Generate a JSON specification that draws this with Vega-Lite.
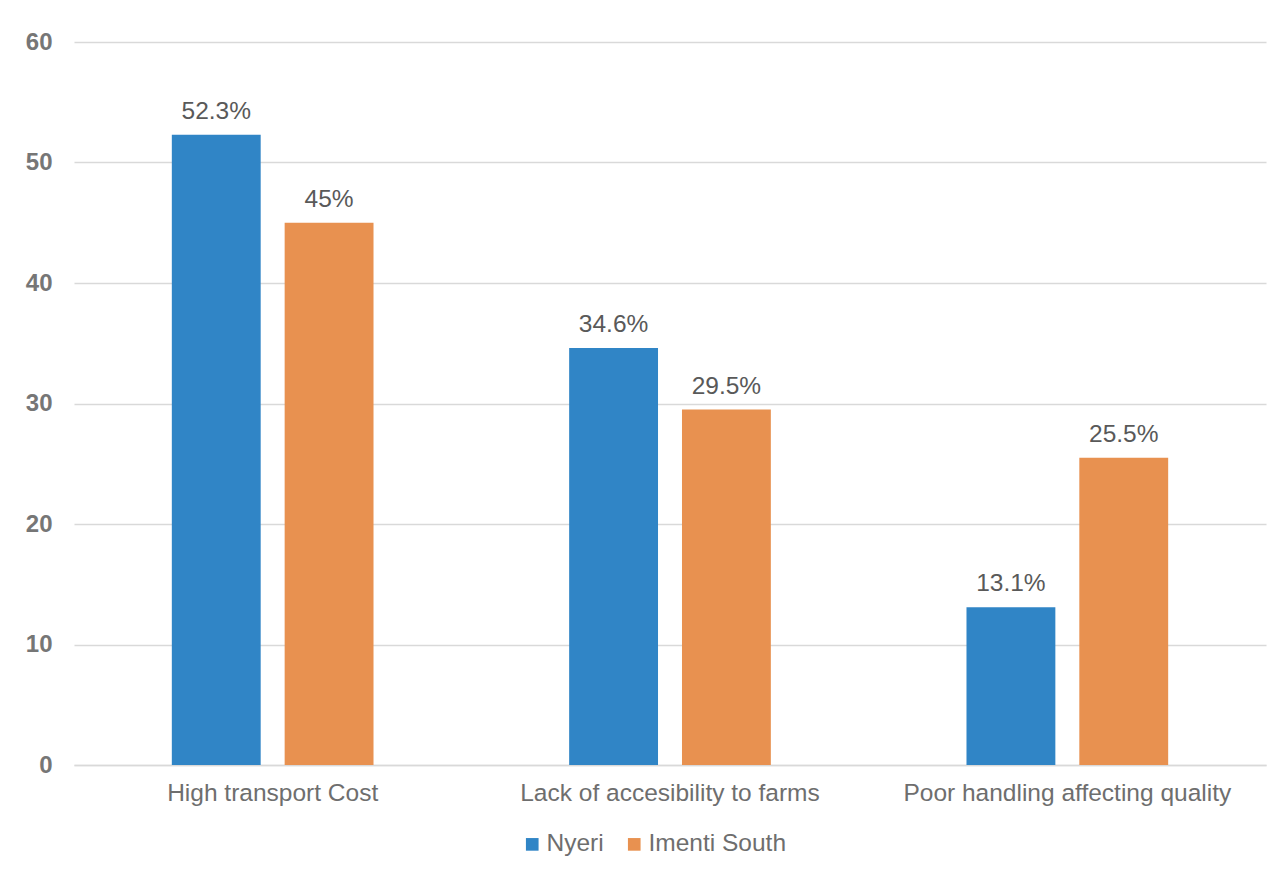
{
  "$schema": "https://vega.github.io/schema/vega-lite/v6.json",
  "width": 1192,
  "height": 723,
  "autosize": {"type": "none"},
  "padding": {"left": 74, "top": 42, "right": 16, "bottom": 110},
  "background": "white",
  "config": {
    "view": {"stroke": null},
    "font": "Liberation Sans"
  },
  "data": {
    "values": [
      {"category": "High transport Cost", "region": "Nyeri", "value": 52.3, "label": "52.3%"},
      {"category": "High transport Cost", "region": "Imenti South", "value": 45, "label": "45%"},
      {"category": "Lack of accesibility to farms", "region": "Nyeri", "value": 34.6, "label": "34.6%"},
      {"category": "Lack of accesibility to farms", "region": "Imenti South", "value": 29.5, "label": "29.5%"},
      {"category": "Poor handling affecting quality", "region": "Nyeri", "value": 13.1, "label": "13.1%"},
      {"category": "Poor handling affecting quality", "region": "Imenti South", "value": 25.5, "label": "25.5%"}
    ]
  },
  "encoding": {
    "x": {
      "field": "category", "type": "nominal", "sort": null,
      "scale": {"paddingInner": 0, "paddingOuter": 0},
      "axis": {
        "title": null, "labelAngle": 0, "ticks": false, "labelLimit": 0,
        "domainColor": "#D9D9D9", "domainWidth": 1.5,
        "labelFont": "Liberation Sans", "labelFontSize": 24.5, "labelColor": "#6E6E6E",
        "labelPadding": 16
      }
    },
    "xOffset": {
      "field": "region", "type": "nominal", "sort": ["Nyeri", "Imenti South"],
      "scale": {"paddingInner": 0.2124, "paddingOuter": 0.867}
    },
    "y": {
      "field": "value", "type": "quantitative",
      "scale": {"domain": [0, 60]},
      "axis": {
        "title": null, "values": [0, 10, 20, 30, 40, 50, 60], "ticks": false, "domain": false,
        "gridColor": "#D9D9D9", "gridWidth": 1.5,
        "labelFont": "Liberation Sans", "labelFontSize": 24, "labelFontWeight": "bold",
        "labelColor": "#767676", "labelPadding": 22
      }
    }
  },
  "layer": [
    {
      "mark": {"type": "bar"},
      "encoding": {
        "color": {
          "field": "region", "type": "nominal",
          "scale": {"domain": ["Nyeri", "Imenti South"], "range": ["#3085C6", "#E89150"]},
          "legend": {
            "title": null, "orient": "none", "direction": "horizontal",
            "legendX": 446, "legendY": 790,
            "symbolType": "square", "symbolSize": 160, "symbolStrokeWidth": 0,
            "labelFont": "Liberation Sans", "labelFontSize": 24.5, "labelColor": "#6E6E6E",
            "columnPadding": 18, "labelOffset": 2, "labelLimit": 0
          }
        }
      }
    },
    {
      "mark": {"type": "text", "baseline": "alphabetic", "dy": -16, "font": "Liberation Sans", "fontSize": 24.5, "color": "#595959"},
      "encoding": {
        "text": {"field": "label"}
      }
    }
  ]
}
